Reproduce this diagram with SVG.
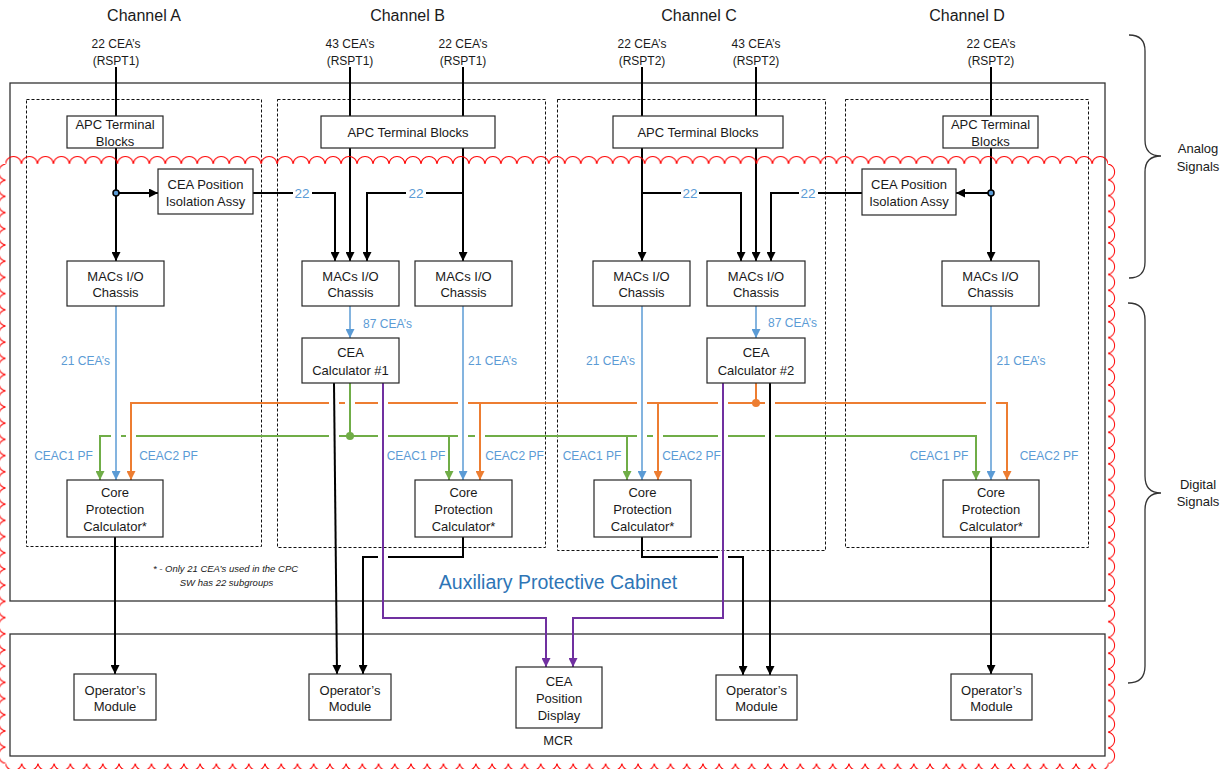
<svg xmlns="http://www.w3.org/2000/svg" width="1226" height="769" viewBox="0 0 1226 769">
<style>
text{font-family:"Liberation Sans",Arial,sans-serif;font-size:13px;fill:#1a1a1a;text-anchor:middle;dominant-baseline:central}
.title{font-size:16px}
.lbl{font-size:12px}
.blue{fill:#5B9BD5}
.num{font-size:13.5px;fill:#5B9BD5}
.note{font-size:9.5px;font-style:italic}
.aux{font-size:19.5px;fill:#2E75B6}
.box{fill:#fff;stroke:#262626;stroke-width:1.2}
.outer{fill:none;stroke:#333;stroke-width:1.3}
.dash{fill:none;stroke:#111;stroke-width:1;stroke-dasharray:3 2}
.k{fill:none;stroke:#000;stroke-width:2}
.b{fill:none;stroke:#5B9BD5;stroke-width:1.5}
.o{fill:none;stroke:#ED7D31;stroke-width:2}
.g{fill:none;stroke:#70AD47;stroke-width:2}
.p{fill:none;stroke:#7030A0;stroke-width:2}
.ka{marker-end:url(#mk)}
.ba{marker-end:url(#mb)}
.oa{marker-end:url(#mo)}
.ga{marker-end:url(#mg)}
.pa{marker-end:url(#mp)}
.brace{fill:none;stroke:#333;stroke-width:1.3}
.cloud{fill:none;stroke:#FF0000;stroke-width:1}
</style>
<defs>
<marker id="mk" viewBox="0 0 10 10" refX="10" refY="5" markerWidth="9" markerHeight="9" markerUnits="userSpaceOnUse" orient="auto"><path d="M0,0 L10,5 L0,10 z" fill="#000"/></marker>
<marker id="mb" viewBox="0 0 10 10" refX="10" refY="5" markerWidth="9" markerHeight="9" markerUnits="userSpaceOnUse" orient="auto"><path d="M0,0 L10,5 L0,10 z" fill="#5B9BD5"/></marker>
<marker id="mo" viewBox="0 0 10 10" refX="10" refY="5" markerWidth="9" markerHeight="9" markerUnits="userSpaceOnUse" orient="auto"><path d="M0,0 L10,5 L0,10 z" fill="#ED7D31"/></marker>
<marker id="mg" viewBox="0 0 10 10" refX="10" refY="5" markerWidth="9" markerHeight="9" markerUnits="userSpaceOnUse" orient="auto"><path d="M0,0 L10,5 L0,10 z" fill="#70AD47"/></marker>
<marker id="mp" viewBox="0 0 10 10" refX="10" refY="5" markerWidth="9" markerHeight="9" markerUnits="userSpaceOnUse" orient="auto"><path d="M0,0 L10,5 L0,10 z" fill="#7030A0"/></marker>
<pattern id="cTop" patternUnits="userSpaceOnUse" x="5.5" y="155" width="15.98" height="10"><path class="cloud" d="M0,9 A8,8 0 0 1 15.98,9"/></pattern>
<pattern id="cRight" patternUnits="userSpaceOnUse" x="1107" y="164" width="10" height="15.78"><path class="cloud" d="M1,0 A8,8 0 0 1 1,15.78"/></pattern>
<pattern id="cBot" patternUnits="userSpaceOnUse" x="5.5" y="763" width="16.22" height="10"><path class="cloud" d="M0,0.5 A8.2,8.2 0 0 0 16.22,0.5"/></pattern>
<pattern id="cLeft" patternUnits="userSpaceOnUse" x="-4.5" y="164" width="11" height="16.2"><path class="cloud" d="M10,0 A8.2,8.2 0 0 0 10,16.2"/></pattern>
</defs>
<rect width="1226" height="769" fill="#fff"/>

<g id="containers">
<rect class="outer" x="10" y="83" width="1095" height="518"/>
<rect class="outer" x="10" y="634" width="1095" height="122"/>
<rect class="dash" x="26.5" y="99.5" width="235" height="447"/>
<rect class="dash" x="277.5" y="99.5" width="268" height="448"/>
<rect class="dash" x="557.5" y="99.5" width="268" height="451"/>
<rect class="dash" x="845.5" y="99.5" width="243" height="448"/>
<text class="aux" x="558" y="582">Auxiliary Protective Cabinet</text>
<text x="558" y="740">MCR</text>
<text class="note" x="225.5" y="568">* - Only 21 CEA’s used in the CPC</text>
<text class="note" x="226.5" y="582">SW has 22 subgroups</text>
</g>

<g id="titles">
<text class="title" x="144" y="15">Channel A</text>
<text class="title" x="407.5" y="15">Channel B</text>
<text class="title" x="699" y="15">Channel C</text>
<text class="title" x="967" y="15">Channel D</text>
<text class="lbl" x="116" y="44">22 CEA’s</text><text class="lbl" x="116" y="61">(RSPT1)</text>
<text class="lbl" x="350" y="44">43 CEA’s</text><text class="lbl" x="350" y="61">(RSPT1)</text>
<text class="lbl" x="463" y="44">22 CEA’s</text><text class="lbl" x="463" y="61">(RSPT1)</text>
<text class="lbl" x="642" y="44">22 CEA’s</text><text class="lbl" x="642" y="61">(RSPT2)</text>
<text class="lbl" x="756" y="44">43 CEA’s</text><text class="lbl" x="756" y="61">(RSPT2)</text>
<text class="lbl" x="991" y="44">22 CEA’s</text><text class="lbl" x="991" y="61">(RSPT2)</text>
</g>

<g id="braces">
<path class="brace" d="M1129,35 Q1145,35 1145,51 L1145,140 Q1145,156 1161,156 Q1145,156 1145,172 L1145,262 Q1145,278 1129,278"/>
<path class="brace" d="M1128,303 Q1145,303 1145,320 L1145,476 Q1145,493 1161,493 Q1145,493 1145,510 L1145,666 Q1145,683 1128,683"/>
<text x="1198" y="148">Analog</text><text x="1198" y="166">Signals</text>
<text x="1198" y="484">Digital</text><text x="1198" y="501">Signals</text>
</g>

<g id="connectors">
<g id="black">
<path class="k" d="M116,67 V116"/>
<path class="k ka" d="M116,148 V261"/>
<path class="k ka" d="M116,193 H158"/>
<path class="k" d="M253,193 H293"/>
<path class="k ka" d="M312,193 H335 V261"/>
<path class="k" d="M350,67 V116"/>
<path class="k ka" d="M350,148 V261"/>
<path class="k" d="M463,67 V116"/>
<path class="k ka" d="M463,148 V261"/>
<path class="k" d="M463,193 H426"/>
<path class="k ka" d="M406,193 H367 V261"/>
<path class="k" d="M642,67 V116"/>
<path class="k ka" d="M642,148 V261"/>
<path class="k" d="M642,193 H681"/>
<path class="k ka" d="M699,193 H741 V261"/>
<path class="k" d="M756,67 V116"/>
<path class="k ka" d="M756,148 V261"/>
<path class="k" d="M991,67 V116"/>
<path class="k ka" d="M991,148 V261"/>
<path class="k ka" d="M991,193 H956"/>
<path class="k" d="M862,193 H818"/>
<path class="k ka" d="M799,193 H771 V261"/>
<path class="k ka" d="M334,383 L337,674"/>
<path class="k" d="M463,537 V557 H388"/>
<path class="k ka" d="M378,557 H363 V674"/>
<path class="k" d="M642,537 V557 H718"/>
<path class="k ka" d="M728,557 H743 V675"/>
<path class="k ka" d="M770,383 V675"/>
<path class="k ka" d="M115,537 V674"/>
<path class="k ka" d="M991,537 V674"/>
<circle cx="116" cy="193" r="3" fill="#5B9BD5" stroke="#000" stroke-width="1.5"/>
<circle cx="991" cy="193" r="3" fill="#5B9BD5" stroke="#000" stroke-width="1.5"/>
</g>
<g id="blue">
<path class="b ba" d="M116,306 V480"/>
<path class="b ba" d="M350,306 V338"/>
<path class="b ba" d="M463,306 V480"/>
<path class="b ba" d="M642,306 V480"/>
<path class="b ba" d="M756,306 V338"/>
<path class="b ba" d="M991,306 V480"/>
</g>
<g id="orange">
<path class="o oa" d="M329,403 H131 V480"/>
<path class="o" d="M339,403 H345 M355,403 H378 M388,403 H458 M468,403 H637 M647,403 H718 M728,403 H765 M775,403 H986"/>
<path class="o oa" d="M996,403 H1007 V480"/>
<path class="o oa" d="M480,403 V480"/>
<path class="o oa" d="M658,403 V480"/>
<path class="o" d="M756,383 V403"/>
<circle cx="756" cy="403" r="4" fill="#ED7D31"/>
</g>
<g id="green">
<path class="g ga" d="M111,436 H100 V480"/>
<path class="g" d="M121,436 H126 M136,436 H329 M339,436 H378 M388,436 H458 M468,436 H475 M485,436 H637 M647,436 H653 M663,436 H718 M728,436 H765"/>
<path class="g ga" d="M775,436 H976 V480"/>
<path class="g ga" d="M449,436 V480"/>
<path class="g ga" d="M627,436 V480"/>
<path class="g" d="M350,383 V436"/>
<circle cx="350" cy="436" r="4" fill="#70AD47"/>
</g>
<g id="purple">
<path class="p pa" d="M383,383 V618 H546 V667"/>
<path class="p pa" d="M723,383 V618 H573 V667"/>
</g>
<g id="connector-labels">
<text class="num" x="302" y="193">22</text>
<text class="num" x="416" y="193">22</text>
<text class="num" x="690" y="193">22</text>
<text class="num" x="808" y="193">22</text>
<text class="lbl blue" x="387.5" y="324">87 CEA’s</text>
<text class="lbl blue" x="792.5" y="323">87 CEA’s</text>
<text class="lbl blue" x="85.5" y="361">21 CEA’s</text>
<text class="lbl blue" x="492.5" y="361">21 CEA’s</text>
<text class="lbl blue" x="610.5" y="361">21 CEA’s</text>
<text class="lbl blue" x="1021" y="361">21 CEA’s</text>
<text class="lbl blue" x="63.5" y="456">CEAC1 PF</text>
<text class="lbl blue" x="168.5" y="456">CEAC2 PF</text>
<text class="lbl blue" x="416" y="456">CEAC1 PF</text>
<text class="lbl blue" x="514.5" y="456">CEAC2 PF</text>
<text class="lbl blue" x="592" y="456">CEAC1 PF</text>
<text class="lbl blue" x="691.5" y="456">CEAC2 PF</text>
<text class="lbl blue" x="939" y="456">CEAC1 PF</text>
<text class="lbl blue" x="1049" y="456">CEAC2 PF</text>
</g>
</g>

<g id="apcA"><rect class="box" x="67" y="116" width="96" height="32"/><text x="115" y="124.5">APC Terminal</text><text x="115" y="141">Blocks</text></g>
<g id="apcB"><rect class="box" x="321" y="116" width="174" height="32"/><text x="408" y="132">APC Terminal Blocks</text></g>
<g id="apcC"><rect class="box" x="613" y="116" width="170" height="32"/><text x="698" y="132">APC Terminal Blocks</text></g>
<g id="apcD"><rect class="box" x="943" y="116" width="95" height="32"/><text x="990.5" y="124.5">APC Terminal</text><text x="990.5" y="141">Blocks</text></g>
<g id="isoA"><rect class="box" x="158" y="169" width="95" height="45"/><text x="205.5" y="184">CEA Position</text><text x="205.5" y="201.5">Isolation Assy</text></g>
<g id="isoD"><rect class="box" x="862" y="169" width="94" height="46"/><text x="909" y="184">CEA Position</text><text x="909" y="201.5">Isolation Assy</text></g>
<g id="macA"><rect class="box" x="67" y="261" width="97" height="45"/><text x="115.5" y="276">MACs I/O</text><text x="115.5" y="292.5">Chassis</text></g>
<g id="macB1"><rect class="box" x="302" y="261" width="97" height="45"/><text x="350.5" y="276">MACs I/O</text><text x="350.5" y="292.5">Chassis</text></g>
<g id="macB2"><rect class="box" x="415" y="261" width="97" height="45"/><text x="463.5" y="276">MACs I/O</text><text x="463.5" y="292.5">Chassis</text></g>
<g id="macC1"><rect class="box" x="593" y="261" width="97" height="45"/><text x="641.5" y="276">MACs I/O</text><text x="641.5" y="292.5">Chassis</text></g>
<g id="macC2"><rect class="box" x="707" y="261" width="98" height="45"/><text x="756" y="276">MACs I/O</text><text x="756" y="292.5">Chassis</text></g>
<g id="macD"><rect class="box" x="942" y="261" width="97" height="45"/><text x="990.5" y="276">MACs I/O</text><text x="990.5" y="292.5">Chassis</text></g>
<g id="calc1"><rect class="box" x="302" y="338" width="97" height="45"/><text x="350.5" y="352.5">CEA</text><text x="350.5" y="370.5">Calculator #1</text></g>
<g id="calc2"><rect class="box" x="707" y="338" width="98" height="45"/><text x="756" y="352.5">CEA</text><text x="756" y="370.5">Calculator #2</text></g>
<g id="cpcA"><rect class="box" x="67" y="480" width="96" height="57"/><text x="115" y="492.5">Core</text><text x="115" y="509.3">Protection</text><text x="115" y="526">Calculator*</text></g>
<g id="cpcB"><rect class="box" x="415" y="480" width="97" height="57"/><text x="463.5" y="492.5">Core</text><text x="463.5" y="509.3">Protection</text><text x="463.5" y="526">Calculator*</text></g>
<g id="cpcC"><rect class="box" x="594" y="480" width="97" height="57"/><text x="642.5" y="492.5">Core</text><text x="642.5" y="509.3">Protection</text><text x="642.5" y="526">Calculator*</text></g>
<g id="cpcD"><rect class="box" x="943" y="480" width="96" height="57"/><text x="991" y="492.5">Core</text><text x="991" y="509.3">Protection</text><text x="991" y="526">Calculator*</text></g>
<g id="opA"><rect class="box" x="74" y="674" width="82" height="46"/><text x="115" y="690">Operator’s</text><text x="115" y="706.5">Module</text></g>
<g id="opB"><rect class="box" x="309" y="674" width="82" height="46"/><text x="350" y="690">Operator’s</text><text x="350" y="706.5">Module</text></g>
<g id="opC"><rect class="box" x="716" y="675" width="81" height="45"/><text x="756.5" y="690">Operator’s</text><text x="756.5" y="706.5">Module</text></g>
<g id="opD"><rect class="box" x="951" y="674" width="81" height="46"/><text x="991.5" y="690">Operator’s</text><text x="991.5" y="706.5">Module</text></g>
<g id="display"><rect class="box" x="516" y="667" width="86" height="61"/><text x="559" y="681">CEA</text><text x="559" y="698">Position</text><text x="559" y="715">Display</text></g>

<g id="revision-cloud">
<rect x="5.5" y="155" width="1102.5" height="10" fill="url(#cTop)"/>
<rect x="1107" y="164" width="10" height="599.6" fill="url(#cRight)"/>
<rect x="5.5" y="763" width="1103" height="10" fill="url(#cBot)"/>
<rect x="-4.5" y="164" width="11" height="599.5" fill="url(#cLeft)"/>
</g>
</svg>
